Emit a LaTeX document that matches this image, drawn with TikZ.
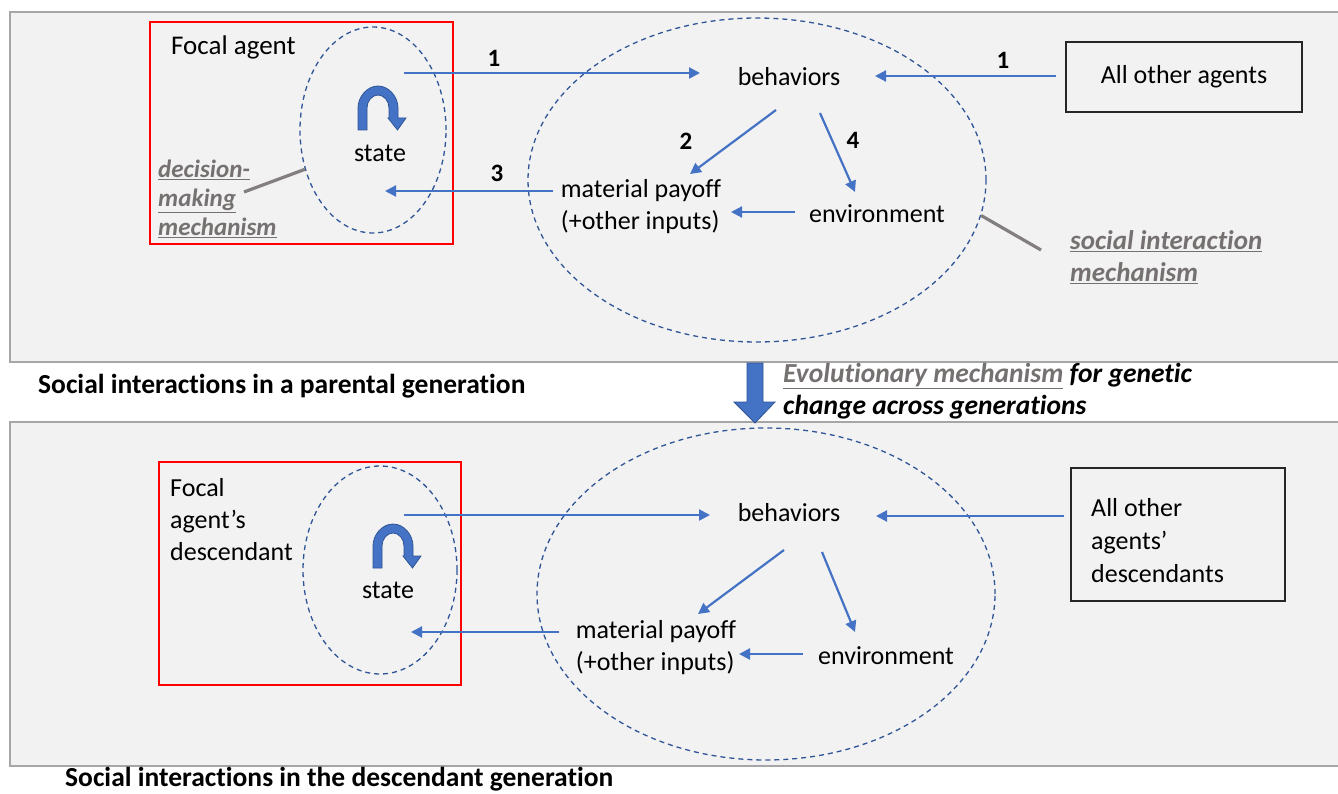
\documentclass[tikz,border=0pt]{standalone}
\usepackage{fontspec}
\setmainfont{Carlito}[Ligatures=NoCommon]
\usetikzlibrary{arrows.meta,shapes.geometric}
\definecolor{panelfill}{HTML}{F2F2F2}
\definecolor{panelline}{HTML}{A6A6A6}
\definecolor{arrblue}{HTML}{4472C4}
\definecolor{darkblue}{HTML}{2F5597}
\definecolor{labgray}{HTML}{767171}
\definecolor{redbox}{HTML}{FF0000}
\newcommand{\archarrow}[2]{%
  \begin{scope}[shift={(#1,#2)}]
  \filldraw[fill=arrblue,draw=darkblue,line width=0.8pt]
    (-20,22) -- (-20,0) .. controls (-20,-11) and (-11,-22) .. (0,-22)
    .. controls (11,-22) and (20,-11) .. (20,0) -- (20,10) -- (28,10) -- (19.5,22) -- (10,10) -- (11,10) -- (11,0)
    .. controls (11,-7) and (6,-13) .. (0,-13)
    .. controls (-6,-13) and (-11,-7) .. (-11,0) -- (-11,22) -- cycle;
  \end{scope}}
\tikzset{
  panel/.style={fill=panelfill,draw=panelline,line width=1.5pt},
  redframe/.style={draw=redbox,line width=1.2pt},
  blackbox/.style={draw=black!85,line width=1.2pt,fill=panelfill},
  dashell/.style={ellipse,draw=darkblue,dash pattern=on 5pt off 4pt,line width=1.3pt,inner sep=0pt},
  txt/.style={font=\fontsize{26}{32}\selectfont,inner sep=0pt},
  num/.style={font=\bfseries\fontsize{25}{28}\selectfont,inner sep=0pt},
  labA/.style={font=\bfseries\itshape\fontsize{25}{29}\selectfont,text=labgray,inner sep=0pt,anchor=base west},
  labB/.style={font=\bfseries\itshape\fontsize{27}{32}\selectfont,text=labgray,inner sep=0pt,anchor=base west},
  evo/.style={font=\bfseries\itshape\fontsize{27.5}{32}\selectfont,inner sep=0pt,anchor=base west},
  caption/.style={font=\bfseries\fontsize{27.5}{32}\selectfont,inner sep=0pt,anchor=base west},
  arr/.style={draw=arrblue,line width=2.2pt,-{Triangle[length=11pt,width=11pt]}},
  pointer/.style={draw=labgray!90,line width=3.2pt},
}
\begin{document}
\begin{tikzpicture}[x=1pt,y=-1pt]
\useasboundingbox[fill=white] (0,0) rectangle (1338,794);
% panels
\path[panel] (10,12) rectangle (1345,362);
\path[panel] (10,422) rectangle (1345,766);

% ---------------- top panel ----------------
\path[redframe] (150,22) rectangle (453,244);
\node[dashell,minimum width=146pt,minimum height=206pt] (fell) at (373,130) {};
\node[dashell,minimum width=458pt,minimum height=324pt] (sell) at (757,180) {};
\node[txt,anchor=west,font=\fontsize{27}{32}\selectfont] (focal) at (171,47) {Focal agent};
\archarrow{378}{108}
\node[txt] (state) at (380,153) {state};
\node[txt] (beh) at (789,77) {behaviors};
\node[blackbox,minimum width=236pt,minimum height=70pt] (others) at (1184,77) {};
\node[txt] at (others.center) {All other agents};
\node[txt,align=left] (pay) at (641,207) {material payoff\\(+other inputs)};
\node[txt] (env) at (877,214) {environment};

\coordinate (a1s) at (404,73);  \coordinate (a1e) at (700,73);
\coordinate (b1s) at (1056,76); \coordinate (b1e) at (875,76);
\coordinate (c2s) at (776,110); \coordinate (c2e) at (690,174);
\coordinate (d4s) at (820,113); \coordinate (d4e) at (855,192);
\coordinate (e3s) at (553,191); \coordinate (e3e) at (385,191);
\coordinate (fs) at (795,212);  \coordinate (fe) at (731,212);
\draw[arr] (a1s) -- (a1e);
\draw[arr] (b1s) -- (b1e);
\draw[arr] (c2s) -- (c2e);
\draw[arr] (d4s) -- (d4e);
\draw[arr] (e3s) -- (e3e);
\draw[arr] (fs) -- (fe);
\node[num] (n1a) at (494,58) {1};
\node[num] (n1b) at (1003,60) {1};
\node[num] (n2) at (686,141) {2};
\node[num] (n3) at (497,173) {3};
\node[num] (n4) at (853,140) {4};

\node[labA] (dm1) at (158,178) {\underline{decision-}};
\node[labA] (dm2) at (158,207) {\underline{making}};
\node[labA] (dm3) at (158,236) {\underline{mechanism}};
\coordinate (dmp) at (244,192);
\draw[pointer] (dmp) -- (fell.210);
\node[labB] (sim1) at (1070,250) {\underline{social interaction}};
\node[labB] (sim2) at (1070,282) {\underline{mechanism}};
\coordinate (simp) at (1041,250);
\draw[pointer] (simp) -- (sell.-9);

% ---------------- middle ----------------
\node[caption] (cap1) at (38,393) {Social interactions in a parental generation};
\filldraw[fill=arrblue,draw=darkblue,line width=0.8pt]
  (747,363) -- (763,363) -- (763,402) -- (775,402) -- (755,423) -- (734,402) -- (747,402) -- cycle;
\node[evo] (evo1) at (783,382) {\textcolor{labgray}{\underline{Evolutionary mechanism}} for genetic};
\node[evo] (evo2) at (783,414) {change across generations};

% ---------------- bottom panel ----------------
\path[redframe] (159,462) rectangle (461,685);
\node[dashell,minimum width=154pt,minimum height=208pt] (fell2) at (380,570) {};
\node[dashell,minimum width=458pt,minimum height=332pt] (sell2) at (766,594) {};
\node[txt,anchor=north west,align=left,font=\fontsize{26}{32}\selectfont] (focal2) at (170,478) {Focal\\agent’s\\descendant};
\archarrow{393}{546}
\node[txt] (state2) at (388,590) {state};
\node[txt] (beh2) at (789,513) {behaviors};
\node[blackbox,minimum width=214pt,minimum height=133pt] (others2) at (1178,534.5) {};
\node[txt,anchor=west,align=left,font=\fontsize{26}{33}\selectfont] at (1091,541) {All other\\agents’\\descendants};
\node[txt,align=left] (pay2) at (656,648) {material payoff\\(+other inputs)};
\node[txt] (env2) at (886,656) {environment};

\coordinate (g1s) at (404,515);  \coordinate (g1e) at (710,515);
\coordinate (h1s) at (1064,516); \coordinate (h1e) at (876,516);
\coordinate (i2s) at (784,550);  \coordinate (i2e) at (698,614);
\coordinate (j4s) at (822,552);  \coordinate (j4e) at (855,632);
\coordinate (k3s) at (559,632);  \coordinate (k3e) at (411,632);
\coordinate (ls) at (803,654);   \coordinate (le) at (739,654);
\draw[arr] (g1s) -- (g1e);
\draw[arr] (h1s) -- (h1e);
\draw[arr] (i2s) -- (i2e);
\draw[arr] (j4s) -- (j4e);
\draw[arr] (k3s) -- (k3e);
\draw[arr] (ls) -- (le);

\node[caption] (cap2) at (65,786) {Social interactions in the descendant generation};
\end{tikzpicture}
\end{document}
